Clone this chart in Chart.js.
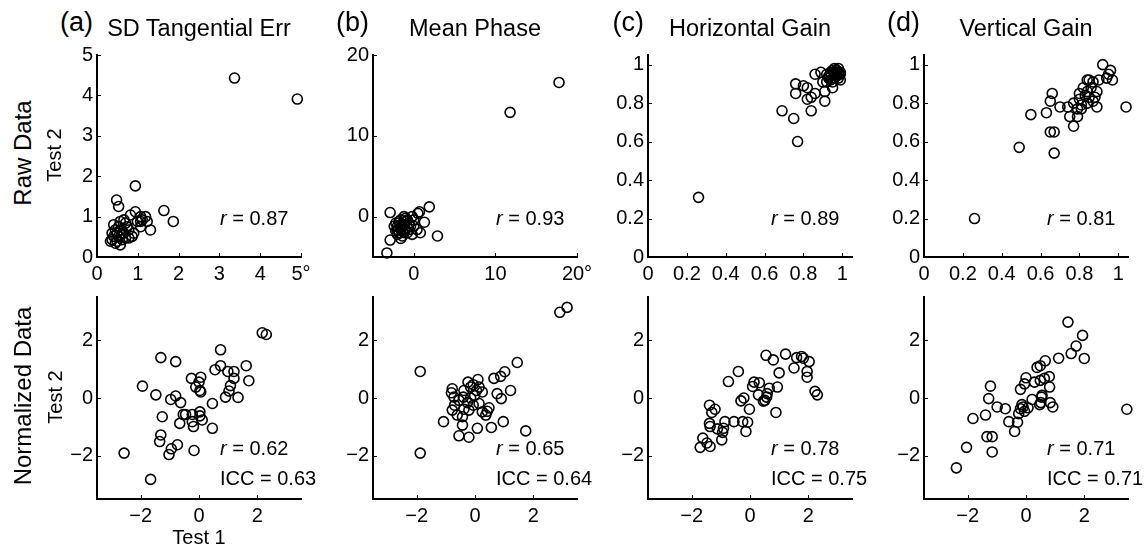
<!DOCTYPE html>
<html><head><meta charset="utf-8">
<script src="https://cdn.jsdelivr.net/npm/chart.js@4.4.0/dist/chart.umd.min.js"></script>
<style>
html,body{margin:0;padding:0;background:#fff;}
body{width:1144px;height:545px;position:relative;overflow:hidden;font-family:'Liberation Sans',Arial,Helvetica,sans-serif;color:#000}
.box{position:absolute}
.t{position:absolute;white-space:nowrap;line-height:1;color:#000}
</style></head><body>
<script>
// ---------- DATA ----------
const panelLetters = ['(a)','(b)','(c)','(d)'];
const panelTitles = ['SD Tangential Err','Mean Phase','Horizontal Gain','Vertical Gain'];
const rowLabels = ['Raw Data','Normalized Data'];
const rRaw = ['0.87','0.93','0.89','0.81'];
const rNorm = ['0.62','0.65','0.78','0.71'];
const iccNorm = ['0.63','0.64','0.75','0.71'];

const tangTicks = [0,1,2,3,4,5];
const tangXLabels = ['0','1','2','3','4','5°'];
const tangYLabels = ['0','1','2','3','4','5'];
const phaseTicks = [0,10,20];
const phaseXLabels = ['0','10','20°'];
const phaseYLabels = ['0','10','20'];
const gainTicks = [0,0.2,0.4,0.6,0.8,1];
const gainLabels = ['0','0.2','0.4','0.6','0.8','1'];
const normTicks = [-2,0,2];
const normLabels = ['\u22122','0','2'];

// Raw data: (a) SD tangential error
const tangRawX = [3.37,4.91,0.94,0.48,0.53,1.64,1.87,0.94,0.82,1.19,1.23,1.31,1.07,0.99,0.41,0.37,0.45,0.49,0.57,0.66,0.70,0.78,0.86,0.62,0.53,0.57,0.70,1.07,0.45,0.37,0.62,0.74,0.90,0.53,0.41,0.57,0.78,0.49,0.66,1.07,0.33,1.11];
const tangRawY = [4.43,3.91,1.76,1.41,1.25,1.15,0.88,1.12,1.04,1.00,0.88,0.67,0.75,0.88,0.80,0.43,0.34,0.59,0.67,0.92,0.84,0.67,0.51,0.43,0.51,0.30,0.47,1.00,0.67,0.59,0.59,0.75,0.59,0.75,0.51,0.88,0.47,0.39,0.59,0.88,0.39,0.92];
// (b) mean phase
const phaseRawX = [17.8,11.8,1.9,-2.9,-3.3,-2.9,2.9,0.8,1.3,0.5,0.7,0.0,-0.2,-1.6,-2.0,-2.2,-1.6,-1.2,-0.8,-1.4,-1.0,-1.8,-0.4,-0.6,-1.2,-2.0,-0.8,-1.0,-1.6,-0.2,-1.4,-2.4,-0.6,-1.2,-1.8,0.0,0.4,-2.2,-1.0,-1.6,-2.0,-1.4];
const phaseRawY = [16.6,12.9,1.2,0.5,-4.5,-2.9,-2.4,-2.0,-0.7,0.4,0.6,-0.4,-2.2,-2.7,-1.6,-0.8,-0.4,0.0,-0.4,-1.2,-1.6,-2.0,-1.2,-0.8,-2.0,-2.2,-2.0,-0.6,-1.6,0.0,-2.4,-1.2,-1.6,-1.0,-0.6,-1.2,-1.6,-1.8,-0.2,-1.0,-1.2,-1.8];
// (c) horizontal gain
const hgainRawX = [0.26,0.77,0.75,0.69,0.76,0.76,0.80,0.82,0.82,0.84,0.84,0.86,0.91,0.91,0.90,0.86,0.89,0.95,0.94,0.93,0.95,0.97,0.98,0.99,0.97,0.96,0.98,0.96,0.92,0.95,0.94,0.99,0.96,0.97,0.93,0.98,0.99,0.96,0.94,0.97,0.92,0.98];
const hgainRawY = [0.31,0.60,0.72,0.76,0.90,0.85,0.89,0.88,0.82,0.76,0.83,0.85,0.81,0.86,0.91,0.95,0.96,0.88,0.92,0.94,0.97,0.97,0.96,0.92,0.94,0.95,0.98,0.93,0.91,0.91,0.96,0.95,0.96,0.95,0.93,0.95,0.96,0.98,0.95,0.97,0.95,0.93];
// (d) vertical gain
const vgainRawX = [0.26,0.49,0.55,0.63,0.65,0.66,0.65,0.67,0.67,0.70,0.74,0.75,0.77,0.79,0.79,0.80,0.80,0.82,0.84,0.85,0.86,0.87,0.89,0.89,0.87,0.84,0.83,0.84,0.92,0.94,0.96,0.97,0.95,1.04,0.81,0.77,0.88,0.90,0.85,0.81];
const vgainRawY = [0.20,0.57,0.74,0.75,0.81,0.85,0.65,0.65,0.54,0.78,0.78,0.73,0.68,0.73,0.77,0.82,0.85,0.88,0.80,0.83,0.88,0.91,0.86,0.78,0.81,0.86,0.84,0.92,1.00,0.93,0.97,0.92,0.95,0.78,0.79,0.80,0.83,0.92,0.92,0.77];

// Normalized data
const tangNormX = [2.17,2.31,-1.31,-0.80,-1.94,-1.48,-0.97,-0.80,-0.63,-1.26,-0.54,-0.46,-0.66,-0.23,-0.26,0.06,0.00,-0.11,0.03,0.06,-0.23,-0.19,0.03,0.03,0.11,0.46,0.46,0.55,0.74,0.74,0.99,1.20,1.20,1.08,1.03,0.91,1.34,1.62,1.71,-1.31,-1.35,-0.74,-0.95,-1.03,-0.17,-2.57,-1.66];
const tangNormY = [2.26,2.20,1.40,1.26,0.41,0.11,-0.05,0.07,-0.16,-0.65,-0.57,-0.57,-0.88,-0.57,0.68,0.72,0.55,0.38,0.26,0.21,-0.82,-0.99,-0.48,-0.62,-0.76,-0.19,-1.05,0.98,1.67,1.12,0.92,0.92,0.68,0.43,0.24,0.03,0.02,1.12,0.60,-1.28,-1.51,-1.62,-1.76,-1.96,-1.82,-1.91,-2.82];
const phaseNormX = [2.91,3.16,-1.88,-1.88,1.45,0.65,0.88,1.02,1.22,0.76,0.90,0.97,1.74,0.56,0.08,-0.21,-0.55,-0.43,-1.08,-0.78,-0.81,-0.72,-0.70,-0.78,-0.61,-0.38,-0.40,-0.24,-0.15,-0.06,0.10,0.14,0.25,-0.01,-0.15,-0.26,-0.38,-0.21,-0.43,0.25,0.37,0.48,0.42,-0.06,0.14,-0.55,0.05];
const phaseNormY = [2.97,3.14,0.92,-1.91,1.23,0.68,0.75,0.91,0.26,0.15,-0.02,-0.82,-1.14,-1.02,-1.05,-1.36,-1.31,-0.94,-0.82,0.32,0.18,0.03,-0.25,-0.42,-0.59,0.26,0.03,0.55,0.38,0.46,0.64,0.38,0.21,0.09,0.00,-0.16,-0.39,-0.42,-0.65,-0.48,-0.59,-0.34,-0.46,-0.25,-0.19,-0.08,0.26];
const hgainNormX = [0.55,0.80,1.22,1.51,1.60,1.77,1.83,2.03,1.96,1.96,2.23,2.31,1.00,0.94,0.66,0.59,0.46,0.57,0.32,0.14,0.09,0.29,0.89,-0.02,-0.21,-0.31,-0.40,-0.74,-1.39,-1.20,-1.31,-1.39,-1.37,-1.12,-0.86,-0.91,-0.94,-0.97,-0.55,-0.25,-0.08,-0.14,-1.62,-1.48,-1.71,-1.37,0.51];
const hgainNormY = [1.48,1.32,1.52,1.04,1.40,1.44,1.38,1.26,0.92,0.72,0.23,0.11,0.87,0.38,0.34,0.15,-0.11,0.03,0.53,0.55,0.40,0.11,-0.50,-0.39,0.00,-0.10,0.92,0.57,-0.25,-0.39,-0.50,-0.88,-0.99,-1.07,-0.82,-1.05,-1.19,-1.45,-0.82,-0.82,-0.84,-1.16,-1.39,-1.56,-1.71,-1.68,-0.08];
const vgainNormX = [1.44,1.94,1.72,1.55,2.00,1.12,3.46,0.66,0.38,0.49,0.80,0.63,0.49,0.81,0.29,0.00,-0.05,-0.19,0.21,0.53,0.51,0.47,0.83,0.92,0.07,-0.10,-0.19,-0.05,-0.25,-0.71,-0.99,-1.28,-1.22,-1.39,-1.82,-0.59,-0.29,-0.39,-1.34,-1.16,-1.16,-2.04,-2.39,-0.14,0.55];
const vgainNormY = [2.63,2.17,1.80,1.54,1.37,1.38,-0.39,1.29,1.06,1.12,0.74,0.68,0.61,0.38,0.55,0.70,0.49,0.30,-0.05,0.03,-0.16,-0.23,-0.16,-0.31,-0.34,-0.31,-0.37,-0.46,-0.54,-0.37,-0.31,-0.02,0.41,-0.59,-0.71,-0.82,-0.84,-1.16,-1.34,-1.34,-1.87,-1.71,-2.42,-0.23,0.09];

// ---------- LAYOUT ----------
const FONT = "'Liberation Sans', Arial, Helvetica, sans-serif";
const PL = [97,373,648,924], PT = [53,295], PW = 204, PH = 204;
const L = 60, R = 22, T = 14, B = 40;

const inwardTicks = {
  id: 'inwardTicks',
  afterDraw(chart) {
    const ctx = chart.ctx, a = chart.chartArea;
    const xs = chart.scales.x, ys = chart.scales.y;
    ctx.save();
    ctx.strokeStyle = '#000'; ctx.lineWidth = 1;
    xs.ticks.forEach(t => {
      const p = Math.round(xs.getPixelForValue(t.value)) + 0.5;
      ctx.beginPath(); ctx.moveTo(p, a.bottom); ctx.lineTo(p, a.bottom - 4); ctx.stroke();
    });
    ys.ticks.forEach(t => {
      const p = Math.round(ys.getPixelForValue(t.value)) + 0.5;
      ctx.beginPath(); ctx.moveTo(a.left, p); ctx.lineTo(a.left + 4, p); ctx.stroke();
    });
    ctx.restore();
  }
};

function panel(col, row, xsArr, ysArr, xLim, yLim, xTicks, xLabels, yTicks, yLabels) {
  const d = document.createElement('div');
  d.className = 'box';
  d.style.left = (PL[col] - L) + 'px';
  d.style.top = (PT[row] - T) + 'px';
  d.style.width = (PW + L + R) + 'px';
  d.style.height = (PH + T + B) + 'px';
  const c = document.createElement('canvas');
  d.appendChild(c);
  document.body.appendChild(d);
  const pts = xsArr.map((x, i) => ({x: x, y: ysArr[i]}));
  new Chart(c, {
    type: 'scatter',
    data: {datasets: [{
      data: pts, pointRadius: 5, pointHoverRadius: 5, pointBorderWidth: 1.6,
      pointBorderColor: '#000', pointBackgroundColor: 'rgba(0,0,0,0)', clip: false
    }]},
    options: {
      responsive: true, maintainAspectRatio: false, animation: false, devicePixelRatio: 1, events: [],
      layout: {padding: {left: 0, right: R, top: T, bottom: 0}},
      plugins: {legend: {display: false}, tooltip: {enabled: false}},
      scales: {
        x: {
          type: 'linear', position: 'bottom', min: xLim[0], max: xLim[1],
          afterBuildTicks: s => { s.ticks = xTicks.map(v => ({value: v})); },
          afterFit: s => { s.height = B; },
          ticks: {callback: (v, i) => xLabels[i], font: {family: FONT, size: 20}, color: '#000', padding: 5, maxRotation: 0, minRotation: 0, autoSkip: false},
          grid: {display: false, drawTicks: false},
          border: {display: true, color: '#000', width: 2}
        },
        y: {
          type: 'linear', position: 'left', min: yLim[0], max: yLim[1],
          afterBuildTicks: s => { s.ticks = yTicks.map(v => ({value: v})); },
          afterFit: s => { s.width = L; },
          ticks: {callback: (v, i) => yLabels[i], font: {family: FONT, size: 20}, color: '#000', padding: 4, autoSkip: false},
          grid: {display: false, drawTicks: false},
          border: {display: true, color: '#000', width: 2}
        }
      }
    },
    plugins: [inwardTicks]
  });
}

function txt(html, x, baseline, size, align) {
  const e = document.createElement('div');
  e.className = 't';
  e.style.fontSize = size + 'px';
  e.style.left = x + 'px';
  e.style.top = (baseline - 0.8465 * size) + 'px';
  e.style.transform = align === 'center' ? 'translateX(-50%)' : (align === 'right' ? 'translateX(-100%)' : 'none');
  e.innerHTML = html;
  document.body.appendChild(e);
}
function rtxt(text, cx, cy, size) {
  const e = document.createElement('div');
  e.className = 't';
  e.style.fontSize = size + 'px';
  e.style.left = cx + 'px';
  e.style.top = cy + 'px';
  e.style.transform = 'translate(-50%,-50%) rotate(-90deg)';
  e.textContent = text;
  document.body.appendChild(e);
}

// ---------- PANELS ----------
panel(0, 0, tangRawX, tangRawY, [0,5], [0,5], tangTicks, tangXLabels, tangTicks, tangYLabels);
panel(1, 0, phaseRawX, phaseRawY, [-5,20], [-5,20], phaseTicks, phaseXLabels, phaseTicks, phaseYLabels);
panel(2, 0, hgainRawX, hgainRawY, [0,1.05], [0,1.05], gainTicks, gainLabels, gainTicks, gainLabels);
panel(3, 0, vgainRawX, vgainRawY, [0,1.05], [0,1.05], gainTicks, gainLabels, gainTicks, gainLabels);
panel(0, 1, tangNormX, tangNormY, [-3.5,3.5], [-3.5,3.5], normTicks, normLabels, normTicks, normLabels);
panel(1, 1, phaseNormX, phaseNormY, [-3.5,3.5], [-3.5,3.5], normTicks, normLabels, normTicks, normLabels);
panel(2, 1, hgainNormX, hgainNormY, [-3.5,3.5], [-3.5,3.5], normTicks, normLabels, normTicks, normLabels);
panel(3, 1, vgainNormX, vgainNormY, [-3.5,3.5], [-3.5,3.5], normTicks, normLabels, normTicks, normLabels);

// ---------- TEXT ----------
for (let i = 0; i < 4; i++) {
  txt(panelLetters[i], PL[i] - 4, 32, 27, 'right');
  txt(panelTitles[i], PL[i] + PW / 2, 37, 23.5, 'center');
  txt('<i>r</i> = ' + rRaw[i], PL[i] + 123, 225, 20, 'left');
  txt('<i>r</i> = ' + rNorm[i], PL[i] + 123, 455, 20, 'left');
  txt('ICC = ' + iccNorm[i], PL[i] + 123, 485, 20, 'left');
}
rtxt(rowLabels[0], 23, 153, 24);
rtxt('Test 2', 54, 155, 20);
rtxt(rowLabels[1], 23, 396, 24);
rtxt('Test 2', 55, 397, 20);
txt('Test 1', PL[0] + PW / 2, 544, 20, 'center');
</script>
</body></html>
